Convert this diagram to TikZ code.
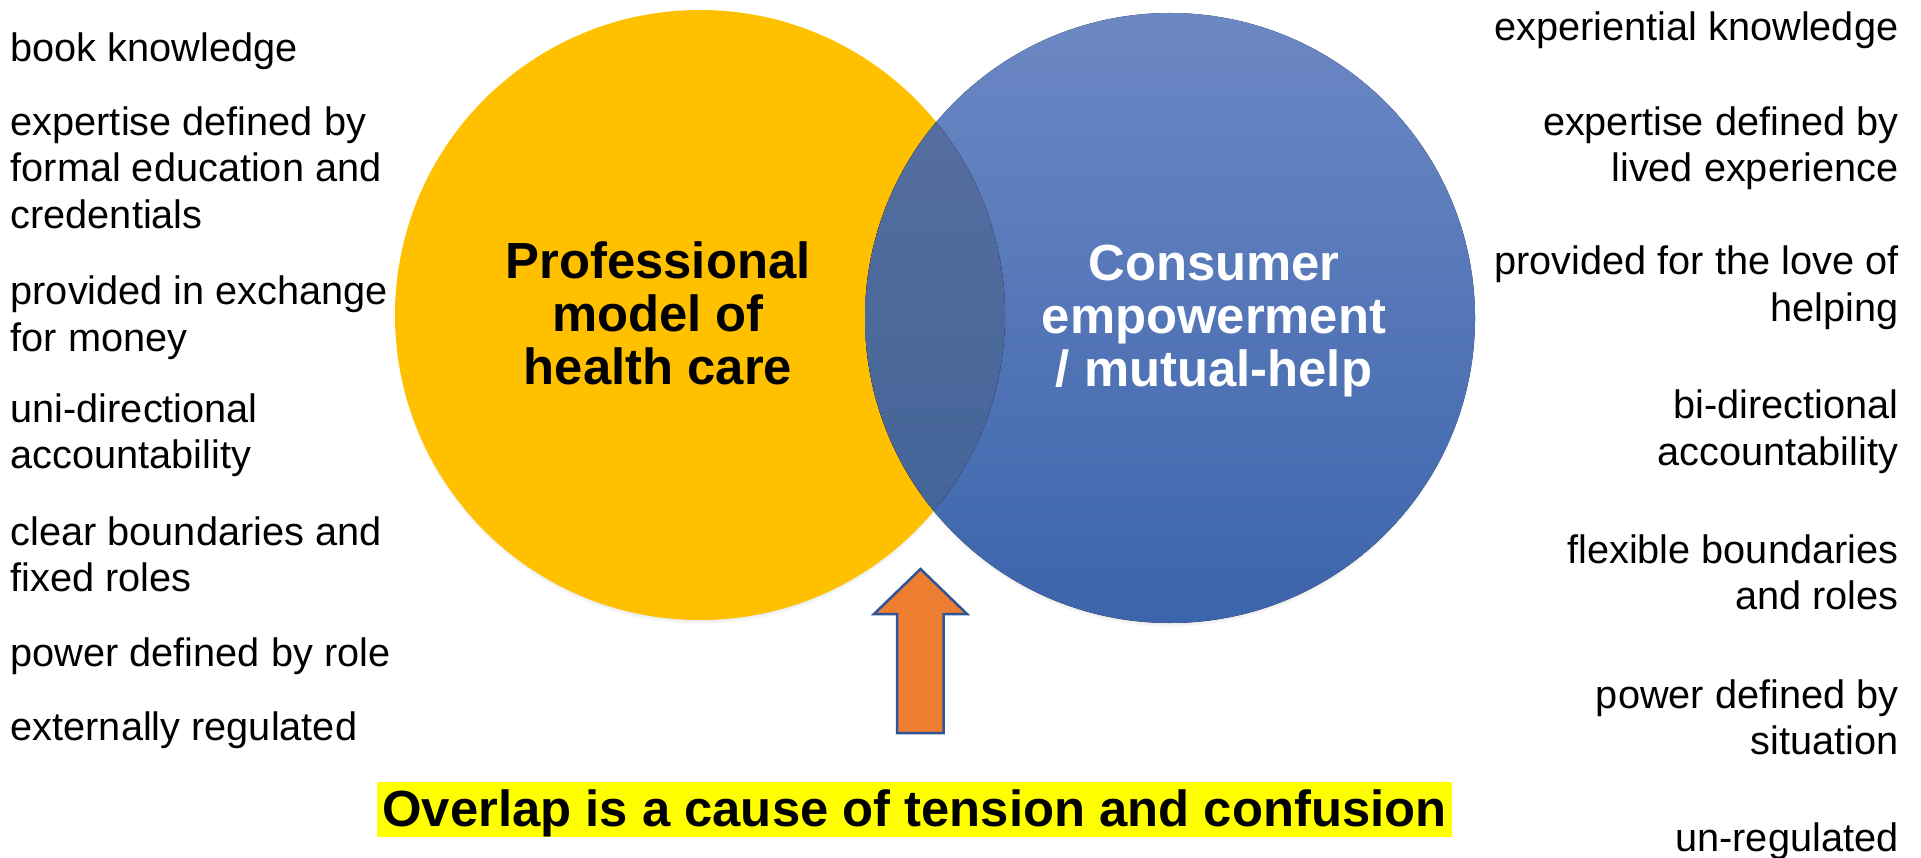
\documentclass[tikz,border=0pt]{standalone}
\usepackage{fontspec}
\setmainfont{Liberation Sans}
\definecolor{proyellow}{RGB}{255,192,0}
\definecolor{contop}{RGB}{108,136,196}
\definecolor{conbottom}{RGB}{60,100,172}
\definecolor{overtop}{RGB}{88,112,160}
\definecolor{overbottom}{RGB}{64,98,150}
\definecolor{arroworange}{RGB}{237,125,49}
\definecolor{arrowblue}{RGB}{47,85,151}
\definecolor{marker}{RGB}{255,255,0}

\newcommand{\colitem}[2]{\begin{tabular}[t]{@{}#1@{}}#2\end{tabular}}

\tikzset{
  listtext/.style={inner sep=0pt,font=\fontsize{39.7}{46.5}\selectfont},
  leftitem/.style={listtext,anchor=base west},
  rightitem/.style={listtext,anchor=base east},
  titletext/.style={inner sep=0pt,anchor=base,font=\fontsize{50.8}{52.6}\selectfont\bfseries},
}

\begin{document}
\begin{tikzpicture}[x=1pt,y=-1pt]
\useasboundingbox (0,0) rectangle (1921,858);
\coordinate (procentre) at (700,315);
\coordinate (concentre) at (1170,318);

% soft shadow under the circles
\foreach \d in {1,...,8}{
  \fill[black,opacity=0.018] ([yshift=-4pt]procentre) circle (297+\d);
  \fill[black,opacity=0.018] ([yshift=-4pt]concentre) circle (297+\d);
}

\fill[proyellow] (procentre) circle (305);
\fill[top color=contop,bottom color=conbottom] (concentre) circle (305);
\begin{scope}
\clip (procentre) circle (305);
\fill[top color=overtop,bottom color=overbottom] (concentre) circle (305);
\end{scope}

\node[titletext] (protitle) at (658,279) {\colitem{c}{Professional\\model of\\health care}};
\node[titletext,text=white] (contitle) at (1214,281) {\colitem{c}{Consumer\\empowerment\\/ mutual-help}};

% arrow pointing at the overlap
\filldraw[fill=arroworange,draw=arrowblue,line width=2.5pt,line join=miter]
  (920.5,569) -- (967,614) -- (943.5,614) -- (943.5,733) -- (897,733) -- (897,614) -- (874,614) -- cycle;

\node[fill=marker,inner xsep=5pt,inner ysep=0pt,text height=44pt,text depth=11pt,anchor=base,
  font=\fontsize{50.8}{52.6}\selectfont\bfseries] (overlap) at (914.5,826) {Overlap is a cause of tension and confusion};

% professional side
\node[leftitem] (book) at (10.5,62) {book knowledge};
\node[leftitem] (credentials) at (10.5,135.5) {\colitem{l}{expertise defined by\\formal education and\\credentials}};
\node[leftitem] (money) at (10.5,305) {\colitem{l}{provided in exchange\\for money}};
\node[leftitem] (unidir) at (10.5,422) {\colitem{l}{uni-directional\\accountability}};
\node[leftitem] (clear) at (10.5,545) {\colitem{l}{clear boundaries and\\fixed roles}};
\node[leftitem] (powerrole) at (10.5,666) {power defined by role};
\node[leftitem] (external) at (10.5,740) {externally regulated};

% consumer side
\node[rightitem] (experiential) at (1898.5,41) {experiential knowledge};
\node[rightitem] (lived) at (1898.5,135.5) {\colitem{r}{expertise defined by\\lived experience}};
\node[rightitem] (love) at (1898.5,275) {\colitem{r}{provided for the love of\\helping}};
\node[rightitem] (bidir) at (1898.5,418.5) {\colitem{r}{bi-directional\\accountability}};
\node[rightitem] (flexible) at (1898.5,563) {\colitem{r}{flexible boundaries\\and roles}};
\node[rightitem] (situation) at (1898.5,708) {\colitem{r}{power defined by\\situation}};
\node[rightitem] (unreg) at (1898.5,851) {un-regulated};
\end{tikzpicture}
\end{document}
